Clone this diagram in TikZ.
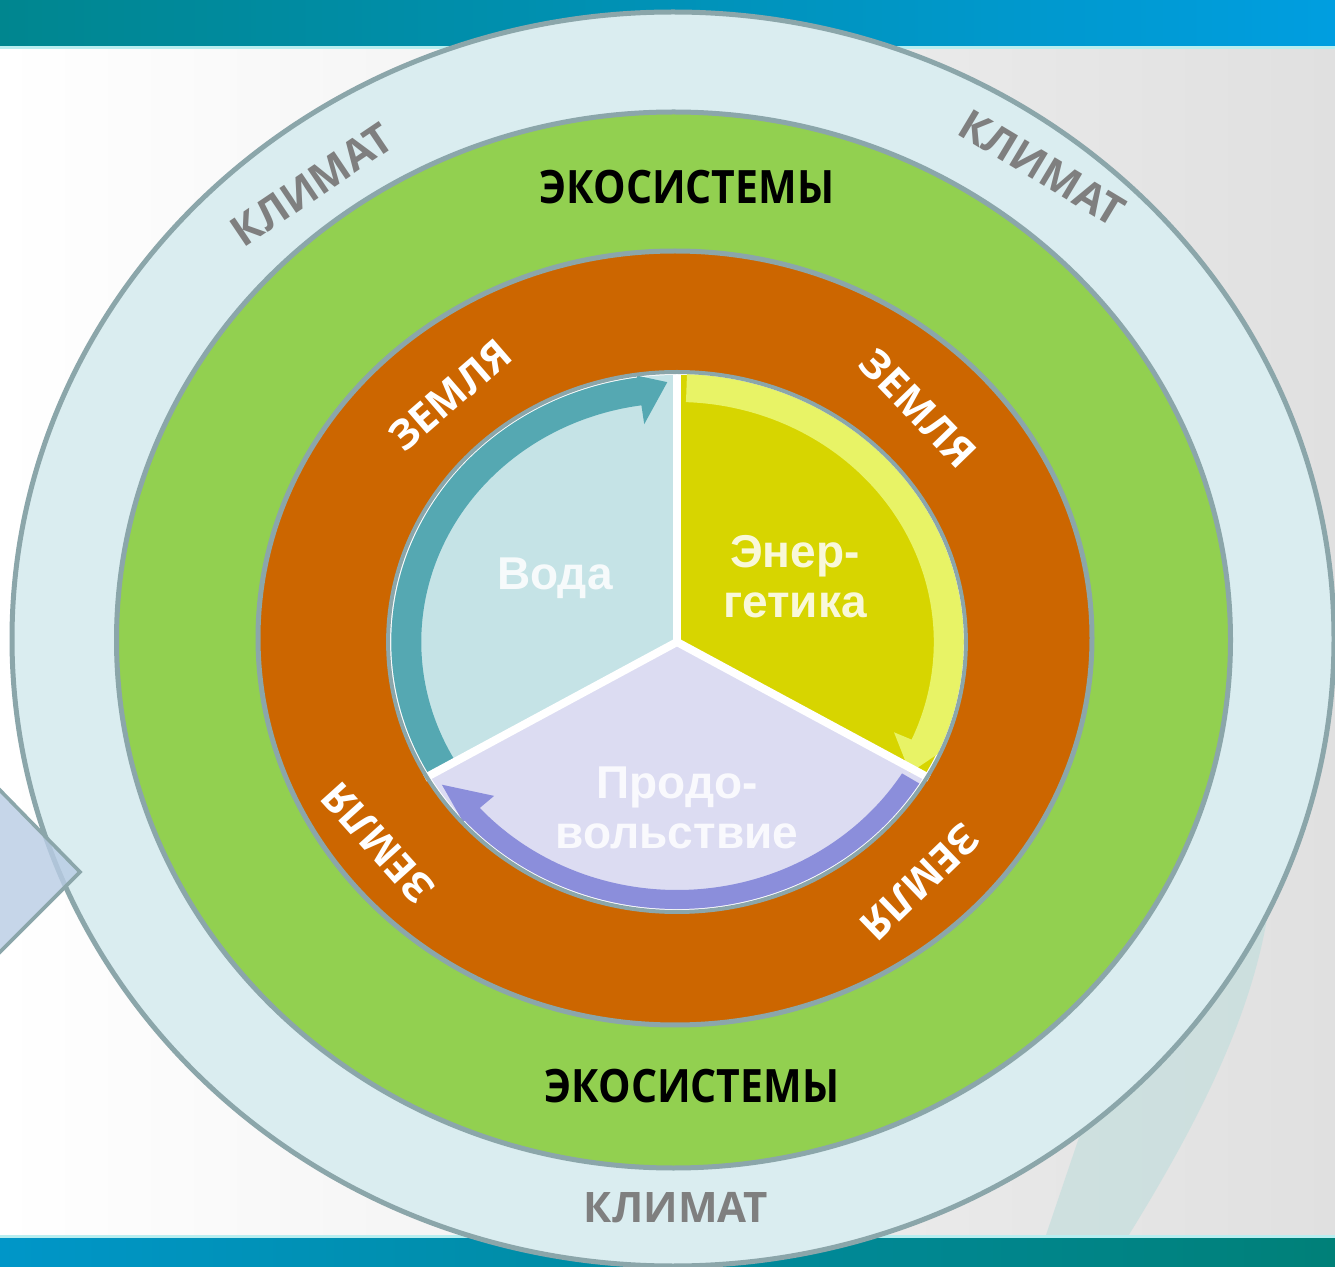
\documentclass[tikz,border=0pt]{standalone}
\usepackage{fontspec}
\setmainfont{Open Sans}
\newfontfamily\piefont{Liberation Sans}
\newfontfamily\ecofont{Open Sans}[FakeStretch=0.89]
\definecolor{topL}{HTML}{00868F}
\definecolor{topR}{HTML}{009EE0}
\definecolor{botL}{HTML}{0096C8}
\definecolor{botR}{HTML}{008078}
\definecolor{bandline}{HTML}{B8EEF0}
\definecolor{bgR}{HTML}{E0E0E0}
\definecolor{crescent}{HTML}{C4DEDD}
\definecolor{climate}{HTML}{DAEDF0}
\definecolor{ringgray}{HTML}{8BA6AA}
\definecolor{eco}{HTML}{92D050}
\definecolor{land}{HTML}{CC6600}
\definecolor{water}{HTML}{C5E3E6}
\definecolor{waterband}{HTML}{55A8B2}
\definecolor{energy}{HTML}{D7D500}
\definecolor{energyband}{HTML}{E8F366}
\definecolor{food}{HTML}{DCDCF2}
\definecolor{foodband}{HTML}{8B8EDB}
\definecolor{climtext}{HTML}{7F7F7F}
\definecolor{diamondfill}{HTML}{B8CCE4}
\tikzset{
  ringline/.style={draw=ringgray, line width=2.5pt},
  climlabel/.style={text=climtext, font=\fontsize{21}{24}\selectfont\bfseries, inner sep=0pt},
  landlabel/.style={text=white, font=\fontsize{20.5}{24}\selectfont\bfseries, inner sep=0pt},
  ecolabel/.style={text=black, font=\ecofont\fontsize{23}{26}\selectfont\bfseries, inner sep=0pt},
  pietext/.style={text=white, text opacity=0.85, align=center, inner sep=0pt,
    font=\piefont\fontsize{23}{25}\selectfont\bfseries},
  separator/.style={draw=white, line width=4pt}
}
\begin{document}
\begin{tikzpicture}[x=0.5pt,y=0.5pt]
\useasboundingbox (0,0) rectangle (1335,-1267);
% background
\shade[left color=white, right color=bgR] (0,-48) rectangle (1335,-1238);
\fill[crescent, opacity=0.7] (1045,-1238) -- (1127,-1238)
  .. controls (1200,-1120) and (1262,-1000) .. (1272,-880) -- (1272,-780) -- (1200,-780) -- cycle;
\shade[left color=topL, right color=topR] (0,0) rectangle (1335,-46);
\fill[bandline] (0,-46) rectangle (1335,-49);
\fill[bandline] (0,-1235) rectangle (1335,-1238);
\shade[left color=botL, right color=botR] (0,-1238) rectangle (1335,-1267);
% rings
\draw[ringline, fill=climate] (673,-639) ellipse [x radius=661, y radius=627];
\draw[ringline, fill=eco] (673.5,-640) ellipse [x radius=557, y radius=528];
\draw[ringline, fill=land] (675,-638) ellipse [x radius=417, y radius=387];
% pie
\begin{scope}[shift={(677,-642)}, xscale=1.07]
  \fill[white] (0,0) circle (270);
  \fill[water] (0,0) -- (90:267) arc[start angle=90, end angle=210, radius=267] -- cycle;
  \fill[energy] (0,0) -- (-30:267) arc[start angle=-30, end angle=90, radius=267] -- cycle;
  \fill[food] (0,0) -- (210:267) arc[start angle=210, end angle=330, radius=267] -- cycle;
  \fill[waterband] (210:239) -- (210:267) arc[start angle=210, end angle=98, radius=267]
     -- (98:269) -- (92:260) -- (98:220) -- (98:239)
     arc[start angle=98, end angle=210, radius=239] -- cycle;
  \fill[energyband] (88:240) -- (88:268) arc[start angle=88, end angle=-24, radius=268]
     -- (-24:270) -- (-31:254) -- (-24:222) -- (-24:240)
     arc[start angle=-24, end angle=88, radius=240] -- cycle;
  \fill[foodband] (328:248) -- (328:267) arc[start angle=328, end angle=222, radius=267]
     -- (222:269) -- (213:262) -- (222:230) -- (222:248)
     arc[start angle=222, end angle=328, radius=248] -- cycle;
  \coordinate (pc) at (0,0);
  \coordinate (sepA) at (90:272);
  \coordinate (sepB) at (210:272);
  \coordinate (sepC) at (330:272);
  \draw[separator] (pc) -- (sepA);
  \draw[separator] (pc) -- (sepB);
  \draw[separator] (pc) -- (sepC);
  \draw[draw=ringgray, line width=2pt] (0,0) circle (270);
\end{scope}
\node[pietext] (voda) at (555,-578) {Вода};
\node[pietext] (energ) at (795,-577) {Энер-\\гетика};
\node[pietext] (prod) at (677,-808) {Продо-\\вольствие};
% land labels
\node[landlabel, rotate=41] (land1) at (450,-395) {ЗЕМЛЯ};
\node[landlabel, rotate=-46] (land2) at (918,-408) {ЗЕМЛЯ};
\node[landlabel, rotate=132] (land3) at (378,-843) {ЗЕМЛЯ};
\node[landlabel, rotate=-136] (land4) at (920,-882) {ЗЕМЛЯ};
% ecosystem labels
\node[ecolabel] (eco1) at (687,-187) {ЭКОСИСТЕМЫ};
\node[ecolabel] (eco2) at (692,-1086) {ЭКОСИСТЕМЫ};
% climate labels
\node[climlabel, rotate=34] (clim1) at (312,-185) {КЛИМАТ};
\node[climlabel, rotate=-31] (clim2) at (1042,-168) {КЛИМАТ};
\node[climlabel] (clim3) at (676,-1208) {КЛИМАТ};
% left pointer shape
\draw[draw=ringgray, line width=1.8pt, fill=diamondfill, fill opacity=0.8]
  (-10,-780) -- (80,-872) -- (-10,-962);
\end{tikzpicture}
\end{document}
